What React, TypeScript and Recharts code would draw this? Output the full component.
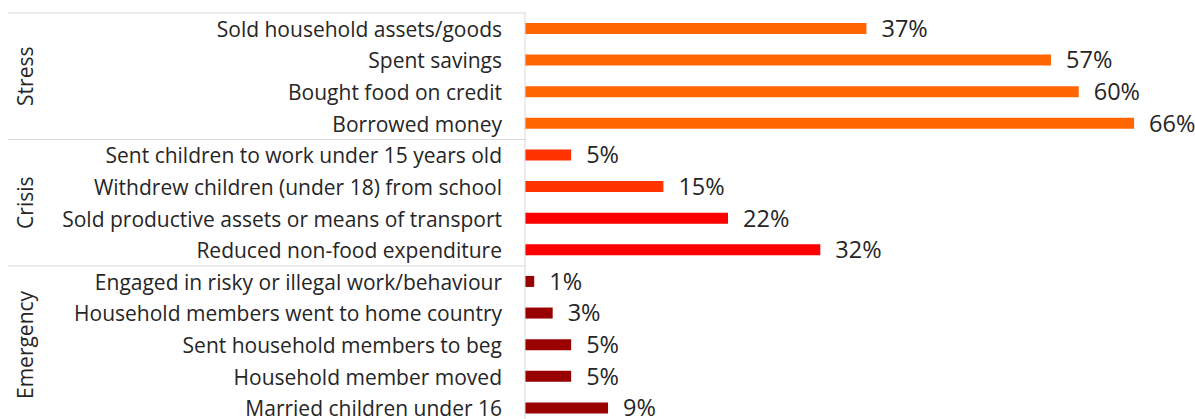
import React from "react";
import { BarChart, Bar, XAxis, YAxis, Cell, LabelList } from "recharts";

const categories = [
  "Sold household assets/goods",
  "Spent savings",
  "Bought food on credit",
  "Borrowed money",
  "Sent children to work under 15 years old",
  "Withdrew children (under 18) from school",
  "Sold productive assets or means of transport",
  "Reduced non-food expenditure",
  "Engaged in risky or illegal work/behaviour",
  "Household members went to home country",
  "Sent household members to beg",
  "Household member moved",
  "Married children under 16",
];
const values = [37, 57, 60, 66, 5, 15, 22, 32, 1, 3, 5, 5, 9];
const groups = ["Stress", "Stress", "Stress", "Stress", "Crisis", "Crisis", "Crisis", "Crisis", "Emergency", "Emergency", "Emergency", "Emergency", "Emergency"];
const barColors = ["#FF6600", "#FF6600", "#FF6600", "#FF6600", "#FF3300", "#FF3300", "#FF0000", "#FF0000", "#990000", "#990000", "#990000", "#990000", "#990000"];

const data = categories.map((name, i) => ({ name, value: values[i], group: groups[i], color: barColors[i] }));

const W = 1195;
const H = 440;
const M = { top: 13, right: 24, bottom: 16, left: 0 };
const Y_AXIS_W = 525;
const band = (H - M.top - M.bottom) / categories.length;
const FONT = "'Open Sans', 'Noto Sans', sans-serif";
const TEXT = "#262626";
const SEP = "#D9D9D9";

const CategoryTick = (props: any) => {
  const { x, y, payload, index } = props;
  const i = index as number;
  const g = groups[i];
  const first = i === 0 || groups[i - 1] !== g;
  const count = groups.filter((v) => v === g).length;
  const top = y - band / 2;
  const axisX = x + 8;
  const cx = 25;
  const cy = top + (count * band) / 2;
  return (
    <g>
      {first && <line x1={8} x2={axisX + 1} y1={top} y2={top} stroke={SEP} strokeWidth={1} />}
      {first && (
        <text
          x={cx}
          y={cy}
          transform={`rotate(-90 ${cx} ${cy})`}
          textAnchor="middle"
          dominantBaseline="central"
          fontSize={21}
          fontFamily={FONT}
          fill={TEXT}
        >
          {g}
        </text>
      )}
      <text x={x - 15} y={y} textAnchor="end" dominantBaseline="central" fontSize={21} fontFamily={FONT} fill={TEXT}>
        {payload.value}
      </text>
    </g>
  );
};

export default function App() {
  return (
    <div style={{ position: "absolute", left: 0, top: 0, width: W, height: 419, overflow: "hidden", background: "#fff" }}>
      <BarChart width={W} height={H} data={data} layout="vertical" margin={M} barSize={11}>
        <XAxis type="number" domain={[0, 70]} hide />
        <YAxis
          type="category"
          dataKey="name"
          width={Y_AXIS_W}
          tickLine={false}
          axisLine={{ stroke: SEP }}
          tick={<CategoryTick />}
          interval={0}
        />
        <Bar dataKey="value" isAnimationActive={false}>
          {data.map((d, i) => (
            <Cell key={i} fill={d.color} />
          ))}
          <LabelList
            dataKey="value"
            position="right"
            offset={15}
            formatter={(v: any) => `${v}%`}
            style={{ fontSize: 23.5, fontFamily: FONT, fill: TEXT }}
          />
        </Bar>
      </BarChart>
    </div>
  );
}
